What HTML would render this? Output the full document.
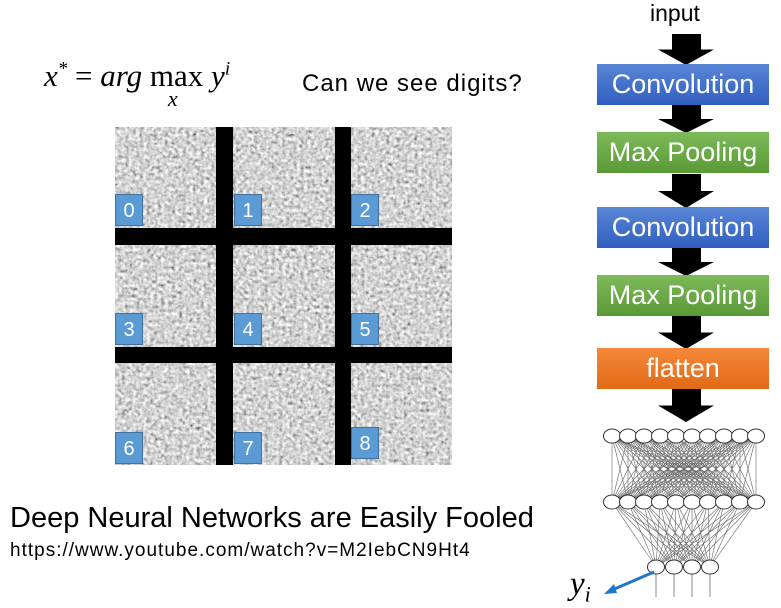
<!DOCTYPE html>
<html><head><meta charset="utf-8"><style>
body{margin:0;width:781px;height:607px;background:#fff;position:relative;overflow:hidden;font-family:"Liberation Sans",sans-serif}
.t{position:absolute;white-space:nowrap}
.lbl{position:absolute;width:28px;height:32px;background:#5b9bd5;border:1px solid #41719c;color:#fff;font-size:20px;text-align:center;line-height:32px;box-sizing:border-box}
.box{position:absolute;left:597px;width:172px;height:41px;color:#fff;font-size:27px;text-align:center;line-height:41px;box-sizing:border-box}
</style></head><body>
<div class="t" style="left:44px;top:58px;font-family:'Liberation Serif',serif;font-style:italic;font-size:31px">x<sup style="font-size:19px">*</sup> <span style="font-style:normal">=</span> arg <span style="font-style:normal;position:relative">max<span style="position:absolute;left:18px;top:28px;font-style:italic;font-size:22px">x</span></span> y<sup style="font-size:19px">i</sup></div>
<div class="t" style="left:302px;top:70px;font-size:24px;letter-spacing:1px">Can we see digits?</div>
<svg style="position:absolute;left:115px;top:127px" width="337" height="338">
<filter id="n" x="0" y="0" width="100%" height="100%"><feTurbulence type="fractalNoise" baseFrequency="0.28" numOctaves="2" seed="3"/><feColorMatrix type="matrix" values="0.33 0.33 0.33 0 0  0.33 0.33 0.33 0 0  0.33 0.33 0.33 0 0  0 0 0 0 1"/><feComponentTransfer><feFuncR type="linear" slope="2.2" intercept="-0.42"/><feFuncG type="linear" slope="2.2" intercept="-0.42"/><feFuncB type="linear" slope="2.2" intercept="-0.42"/></feComponentTransfer></filter>
<rect width="337" height="338" fill="#a8a8a8"/>
<rect width="337" height="338" filter="url(#n)" opacity="0.95"/>
<rect x="101" y="0" width="17" height="338" fill="#000"/>
<rect x="220" y="0" width="16" height="338" fill="#000"/>
<rect x="0" y="101" width="337" height="17" fill="#000"/>
<rect x="0" y="220" width="337" height="16" fill="#000"/>
</svg>
<div class="lbl" style="left:115px;top:194px">0</div>
<div class="lbl" style="left:234px;top:194px">1</div>
<div class="lbl" style="left:351px;top:194px">2</div>
<div class="lbl" style="left:115px;top:313px">3</div>
<div class="lbl" style="left:234px;top:313px">4</div>
<div class="lbl" style="left:351px;top:313px">5</div>
<div class="lbl" style="left:115px;top:432px">6</div>
<div class="lbl" style="left:234px;top:432px">7</div>
<div class="lbl" style="left:351px;top:427px">8</div>
<div class="t" style="left:10px;top:502px;font-size:29px">Deep Neural Networks are Easily Fooled</div>
<div class="t" style="left:10px;top:540px;font-size:19px;letter-spacing:1px">https://www.youtube.com/watch?v=M2IebCN9Ht4</div>
<div class="t" style="left:650px;top:0px;font-size:23px">input</div>
<svg style="position:absolute;left:0;top:0" width="781" height="607" id="arr"></svg>
<div class="box" style="top:64px;background:linear-gradient(#5a86d6,#2f5fc0)">Convolution</div>
<div class="box" style="top:132px;background:linear-gradient(#7dba5a,#5a9a35)">Max Pooling</div>
<div class="box" style="top:207px;background:linear-gradient(#5a86d6,#2f5fc0)">Convolution</div>
<div class="box" style="top:275px;background:linear-gradient(#7dba5a,#5a9a35)">Max Pooling</div>
<div class="box" style="top:348px;background:linear-gradient(#f5883a,#e06a15)">flatten</div>
<svg style="position:absolute;left:0;top:0" width="781" height="607" id="net"></svg>
<div class="t" style="left:570px;top:566px;font-family:'Liberation Serif',serif;font-style:italic;font-size:33px">y<sub style="font-size:22px">i</sub></div>
<script>
const NS="http://www.w3.org/2000/svg";
const arr=document.getElementById('arr');
[[34,65],[105,133],[174,208],[248,276],[316,349],[389,422]].forEach(([a,b])=>{
 const p=document.createElementNS(NS,'polygon');
 const m=a+(b-a)*0.5;
 p.setAttribute('points',`672,${a} 701,${a} 701,${m} 714,${m} 686,${b} 658,${m} 672,${m}`);
 p.setAttribute('fill','#000');
 
 
 arr.appendChild(p);
});
const net=document.getElementById('net');
const L=[[],[],[]];
for(let i=0;i<10;i++){L[0].push([612+i*16,436]);L[1].push([612+i*16,502]);}
for(let i=0;i<4;i++)L[2].push([656+i*18,567]);
function ln(a,b,c,w){const l=document.createElementNS(NS,'line');l.setAttribute('x1',a[0]);l.setAttribute('y1',a[1]);l.setAttribute('x2',b[0]);l.setAttribute('y2',b[1]);l.setAttribute('stroke',c);l.setAttribute('stroke-width',w);net.appendChild(l);}
for(let k=0;k<2;k++)L[k].forEach(a=>L[k+1].forEach(b=>ln(a,b,'#666',0.6)));
L[2].forEach(a=>ln(a,[a[0],597],'#888',1));
L.forEach(layer=>layer.forEach(p=>{const c=document.createElementNS(NS,'ellipse');c.setAttribute('cx',p[0]);c.setAttribute('cy',p[1]);c.setAttribute('rx',8.5);c.setAttribute('ry',7);c.setAttribute('fill','#fff');c.setAttribute('stroke','#333');


net.appendChild(c);}));
ln([654,572],[612,590],'#1f77c8',3);
const h=document.createElementNS(NS,'polygon');h.setAttribute('points','604,594 614,584 617,593');h.setAttribute('fill','#1f77c8');net.appendChild(h);
</script>
</body></html>
